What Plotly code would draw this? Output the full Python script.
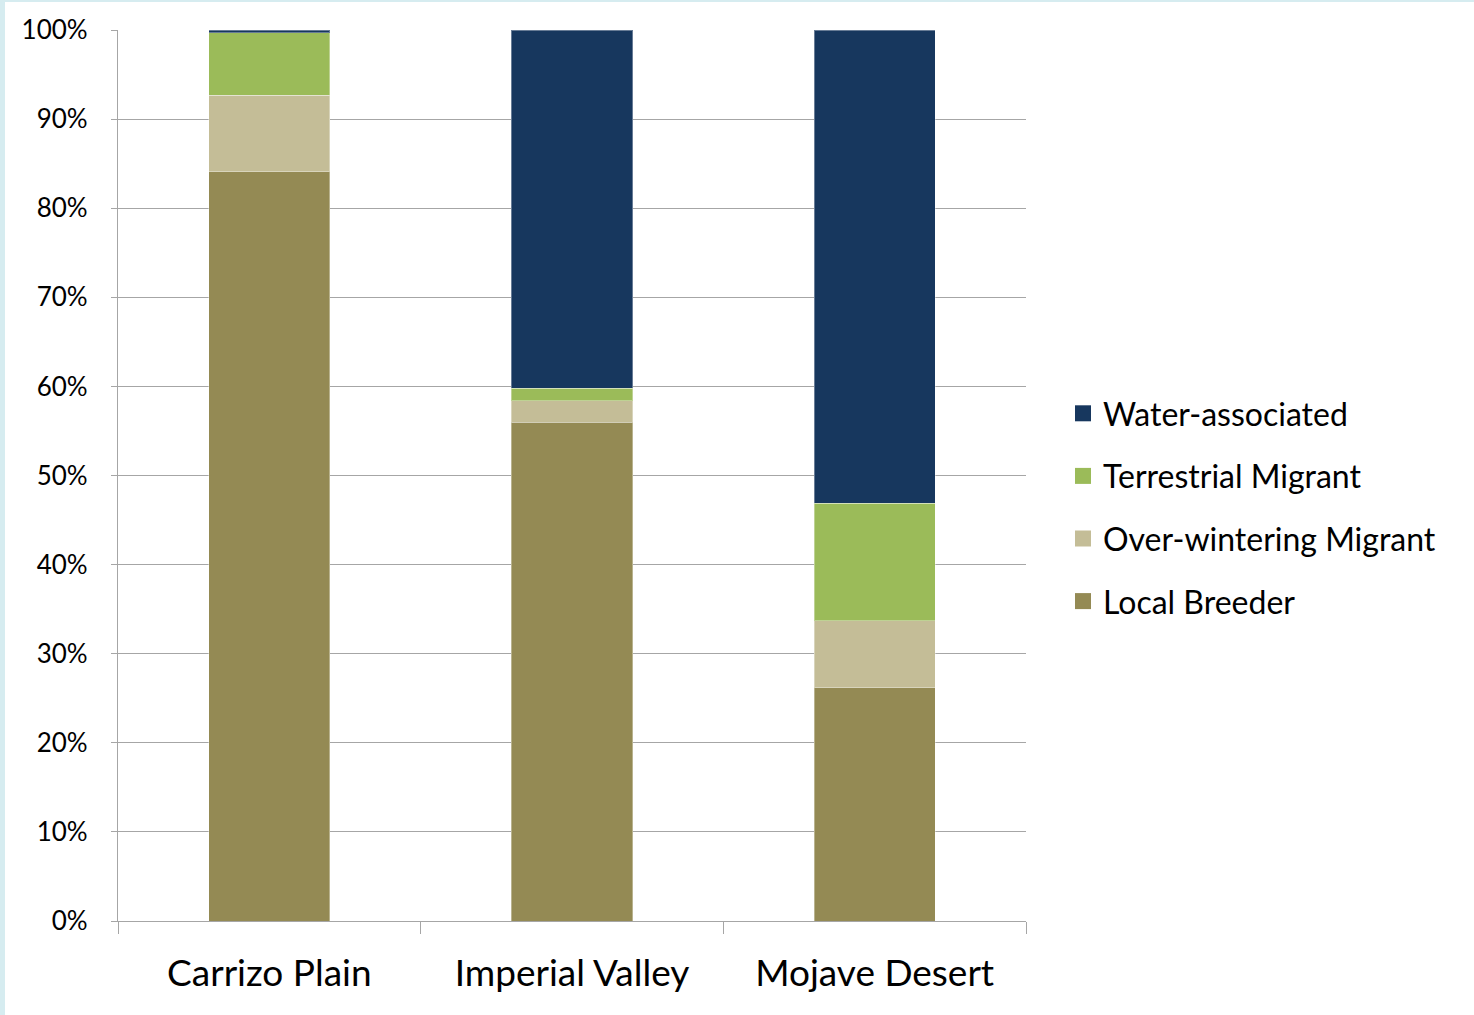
import plotly.graph_objects as go

regions = ["Carrizo Plain", "Imperial Valley", "Mojave Desert"]

local_breeder = [84.1, 56.0, 26.2]
over_wintering = [8.6, 2.4, 7.5]
terrestrial = [7.0, 1.4, 13.2]
water_assoc = [0.3, 40.2, 53.1]

series = [
    ("Local Breeder", local_breeder, "#948A54", 4),
    ("Over-wintering Migrant", over_wintering, "#C4BD97", 3),
    ("Terrestrial Migrant", terrestrial, "#9BBB59", 2),
    ("Water-associated", water_assoc, "#17375E", 1),
]

W, H = 1474, 1015
L, R, T, B = 118, 1026, 30, 921


def px_x(p):
    return (p - L) / (R - L)


def px_y(p):
    return (B - p) / (B - T)


fig = go.Figure()
for name, vals, color, rank in series:
    fig.add_trace(go.Bar(
        x=regions,
        y=vals,
        name=name,
        showlegend=False,
        marker=dict(color=color, line=dict(color="rgba(255,255,255,0.35)", width=1)),
    ))
    # legend entry with a larger square swatch
    fig.add_trace(go.Scatter(
        x=[None], y=[None],
        mode="markers",
        name=name,
        legendgroup=name,
        legendrank=rank,
        marker=dict(symbol="square", size=18, color=color),
    ))

# white card over a light blue frame
fig.add_shape(
    type="rect", xref="paper", yref="paper",
    x0=px_x(5), x1=px_x(W + 5), y0=px_y(H + 5), y1=px_y(2),
    fillcolor="white", line_width=0, layer="below",
)

fig.update_layout(
    barmode="stack",
    bargap=0.6,
    width=W,
    height=H,
    margin=dict(l=L, r=W - R, t=T, b=H - B),
    paper_bgcolor="#D6ECF0",
    plot_bgcolor="rgba(0,0,0,0)",
    font=dict(family="Lato, sans-serif", color="black"),
    legend=dict(
        x=px_x(1063), y=px_y(386),
        xanchor="left", yanchor="top",
        traceorder="grouped",
        tracegroupgap=18,
        font=dict(size=32),
        itemwidth=30,
        bgcolor="rgba(0,0,0,0)",
    ),
)

fig.update_yaxes(
    range=[0, 100],
    dtick=10,
    ticksuffix="%",
    showgrid=True,
    gridcolor="#A6A6A6",
    gridwidth=1.3,
    showline=True,
    linecolor="#A6A6A6",
    linewidth=1.3,
    ticks="outside",
    ticklen=6,
    tickcolor="#A6A6A6",
    tickfont=dict(size=26),
    ticklabelstandoff=18,
    zeroline=False,
)

fig.update_xaxes(
    tickson="boundaries",
    ticks="outside",
    ticklen=12,
    tickcolor="#A6A6A6",
    showline=True,
    linecolor="#A6A6A6",
    linewidth=1.3,
    tickfont=dict(size=37),
    ticklabelstandoff=19,
)

fig.write_html(
    "out.html",
    config={"displayModeBar": False},
    post_script="document.body.style.margin='0';",
)
